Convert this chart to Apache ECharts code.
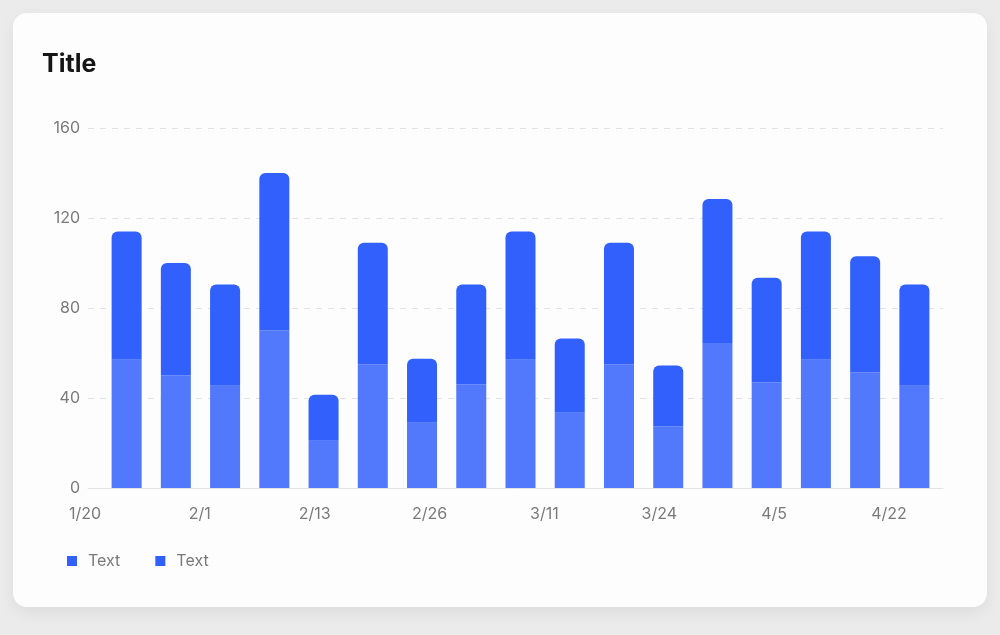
<!DOCTYPE html>
<html>
<head>
<meta charset="utf-8">
<script src="https://cdn.jsdelivr.net/npm/echarts@6/dist/echarts.min.js"></script>
<style>
  html, body { margin: 0; padding: 0; background: #ebebeb; }
  .card {
    position: absolute; left: 13px; top: 13px; width: 974px; height: 594px;
    background: #fdfdfd; border-radius: 14px;
    box-shadow: 0 6px 16px rgba(0, 0, 0, 0.06);
  }
  #chart { position: absolute; left: 0; top: 0; width: 1000px; height: 635px; }
</style>
</head>
<body>
<div class="card"></div>
<div id="chart"></div>
<script>
// 17 bars, dates only used as category keys
const categories = ['1/20', '1/26', '2/1', '2/7', '2/13', '2/19', '2/26', '3/3', '3/11',
  '3/17', '3/24', '3/30', '4/5', '4/11', '4/17', '4/22', '4/28']
// tick labels shown under the axis
const tickLabels = ['1/20', '2/1', '2/13', '2/26', '3/11', '3/24', '4/5', '4/22']
const lowerValues = [57, 50, 45.5, 70, 21, 55, 29, 46, 57, 33.5, 55, 27.5, 64.5, 47, 57, 51.5, 45.5]
const upperValues = [57, 50, 45, 70, 20.5, 54, 28.5, 44.5, 57, 33, 54, 27, 64, 46.5, 57, 51.5, 45]
const legendNames = ['Text 1', 'Text 2']

const lightBlue = '#5278fb'
const darkBlue = '#3160fc'
const font = 'Inter, "Noto Sans", sans-serif'

const chart = echarts.init(document.getElementById('chart'), null, { renderer: 'canvas' })

const option = {
  title: {
    text: 'Title',
    left: 42,
    top: 52,
    padding: 0,
    textStyle: { fontFamily: font, fontSize: 25, fontWeight: 'bold', color: '#151515' }
  },
  legend: {
    left: 62,
    top: 548,
    itemWidth: 10,
    itemHeight: 10,
    itemGap: 35,
    icon: 'rect',
    data: [
      { name: legendNames[0], itemStyle: { color: darkBlue } },
      { name: legendNames[1], itemStyle: { color: darkBlue } }
    ],
    formatter: (name) => name.replace(/ \d$/, ''),
    textStyle: { fontFamily: font, fontSize: 16, color: '#7a7a7a', padding: [0, 0, 0, 6] }
  },
  grid: [
    // axis frame: split lines + axis line
    { left: 88, right: 57, top: 128, bottom: 147 },
    // bars
    { left: 102, right: 61, top: 128, bottom: 147 },
    // tick labels
    { left: 85, right: 111, top: 128, bottom: 147 }
  ],
  xAxis: [
    {
      gridIndex: 0, type: 'category', data: categories,
      axisLine: { lineStyle: { color: '#e2e2e2', width: 1 } },
      axisTick: { show: false }, axisLabel: { show: false }
    },
    {
      gridIndex: 1, type: 'category', data: categories,
      axisLine: { show: false }, axisTick: { show: false }, axisLabel: { show: false }
    },
    {
      gridIndex: 2, type: 'category', data: tickLabels, boundaryGap: false,
      axisLine: { show: false }, axisTick: { show: false },
      axisLabel: { margin: 18, fontFamily: font, fontSize: 16, color: '#7a7a7a' }
    }
  ],
  yAxis: [
    {
      gridIndex: 0, type: 'value', min: 0, max: 160, interval: 40,
      axisLine: { show: false }, axisTick: { show: false },
      axisLabel: { margin: 8, fontFamily: font, fontSize: 16, color: '#7a7a7a' },
      splitLine: { lineStyle: { type: [6, 6], color: '#e2e2e2' } }
    },
    {
      gridIndex: 1, type: 'value', min: 0, max: 160, interval: 40,
      axisLine: { show: false }, axisTick: { show: false },
      axisLabel: { show: false }, splitLine: { show: false }
    },
    {
      gridIndex: 2, type: 'value', min: 0, max: 160, show: false
    }
  ],
  series: [
    {
      name: legendNames[0], type: 'bar', stack: 'total',
      xAxisIndex: 1, yAxisIndex: 1,
      barWidth: 30,
      data: lowerValues,
      itemStyle: { color: lightBlue }
    },
    {
      name: legendNames[1], type: 'bar', stack: 'total',
      xAxisIndex: 1, yAxisIndex: 1,
      barWidth: 30,
      data: upperValues,
      itemStyle: { color: darkBlue, borderRadius: [6, 6, 0, 0] }
    }
  ]
}

chart.setOption(option)
</script>
</body>
</html>
